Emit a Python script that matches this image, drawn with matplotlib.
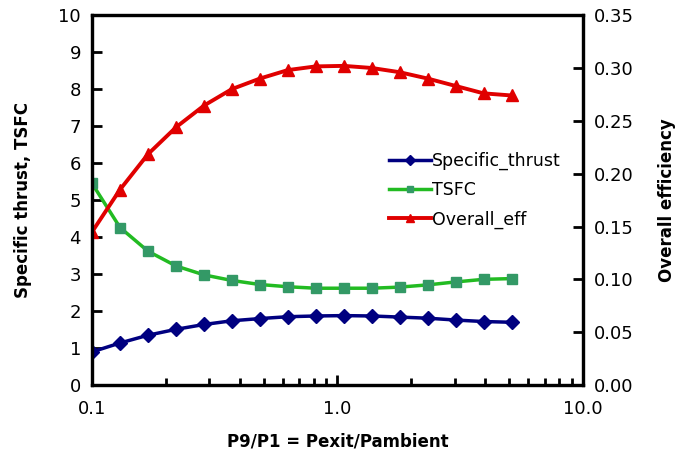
import matplotlib
matplotlib.use("Agg")
import matplotlib.pyplot as plt
from matplotlib.ticker import FixedLocator, FixedFormatter, LogLocator, NullFormatter

# pressure ratio P9/P1
pressure_ratio = [0.100, 0.130, 0.169, 0.220, 0.286, 0.371, 0.483, 0.627,
                  0.816, 1.060, 1.379, 1.792, 2.330, 3.029, 3.937, 5.119]
specific_thrust = [0.90, 1.14, 1.35, 1.51, 1.64, 1.74, 1.80, 1.85,
                   1.87, 1.88, 1.87, 1.84, 1.81, 1.76, 1.72, 1.70]
tsfc = [5.45, 4.26, 3.62, 3.22, 2.98, 2.83, 2.72, 2.66,
        2.62, 2.62, 2.62, 2.65, 2.71, 2.79, 2.86, 2.88]
overall_eff = [0.145, 0.185, 0.2185, 0.244, 0.2645, 0.280, 0.290, 0.298,
               0.3015, 0.302, 0.300, 0.296, 0.290, 0.283, 0.276, 0.274]

xticks = [0.1, 1.0, 10.0]
xtick_labels = ["0.1", "1.0", "10.0"]
left_ticks = list(range(0, 11))
right_ticks = [0.00, 0.05, 0.10, 0.15, 0.20, 0.25, 0.30, 0.35]

plt.rcParams['font.family'] = ['DejaVu Sans']

fig = plt.figure(figsize=(6.77, 4.58), dpi=100)
ax = fig.add_axes([0.136, 0.159, 0.725, 0.808])
ax2 = ax.twinx()

l1, = ax.plot(pressure_ratio, specific_thrust, color="#000080", lw=2.5,
              marker="D", ms=7, mfc="#000080", mec="#000080", label="Specific_thrust")
l2, = ax.plot(pressure_ratio, tsfc, color="#22BB22", lw=2.5,
              marker="s", ms=6.5, mfc="#339966", mec="#339966", label="TSFC")
l3, = ax2.plot(pressure_ratio, overall_eff, color="#E00000", lw=2.8,
               marker="^", ms=8, mfc="#E00000", mec="#E00000", label="Overall_eff")

ax.set_xscale("log")
ax.set_xlim(0.1, 10)
ax.set_ylim(0, 10)
ax2.set_ylim(0, 0.35)

ax.xaxis.set_major_locator(FixedLocator(xticks))
ax.xaxis.set_major_formatter(FixedFormatter(xtick_labels))
ax.xaxis.set_minor_locator(LogLocator(base=10, subs=range(2, 10)))
ax.xaxis.set_minor_formatter(NullFormatter())
ax.set_yticks(left_ticks)
ax2.set_yticks(right_ticks)
ax2.set_yticklabels([f"{v:.2f}" for v in right_ticks])

for a in (ax, ax2):
    for s in a.spines.values():
        s.set_linewidth(2.3)
    a.tick_params(which="major", direction="in", length=7, width=2, labelsize=13, pad=8)
    a.tick_params(which="minor", direction="in", length=5, width=2)
ax.tick_params(axis="x", pad=11)

ax.set_xlabel("P9/P1 = Pexit/Pambient", fontsize=12, fontweight="bold", labelpad=10)
ax.set_ylabel("Specific thrust, TSFC", fontsize=12, fontweight="bold", labelpad=19)
ax2.set_ylabel("Overall efficiency", fontsize=12, fontweight="bold", labelpad=17)

leg = ax2.legend(handles=[l1, l2, l3], loc="center left", bbox_to_anchor=(0.573, 0.527),
                 frameon=False, fontsize=12.5, handlelength=2.4, handletextpad=0.1,
                 labelspacing=0.64, markerscale=0.75)

fig.savefig("out.png", dpi=100)
